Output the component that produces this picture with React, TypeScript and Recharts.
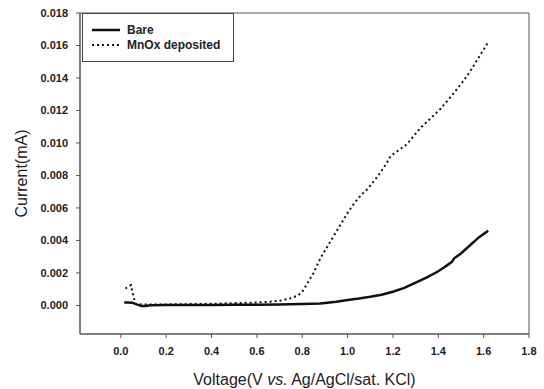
import React from 'react'
import { LineChart, Line, XAxis, YAxis, Legend, Label, ReferenceArea } from 'recharts'

// Bare electrode
const bareVoltage = [0.015, 0.03, 0.05, 0.07, 0.09, 0.11, 0.13, 0.2, 0.3, 0.4, 0.5, 0.6, 0.7, 0.8, 0.88, 0.95, 1.0, 1.05, 1.1, 1.15, 1.2, 1.25, 1.3, 1.35, 1.4, 1.44, 1.46, 1.47, 1.5, 1.54, 1.58, 1.62]
const bareCurrent = [0.00018, 0.00018, 0.00017, 0.00006, -0.00004, -0.00004, 0.00001, 0.00003, 0.00003, 0.00003, 0.00004, 0.00004, 0.00006, 0.00008, 0.00012, 0.00022, 0.00033, 0.00042, 0.00053, 0.00066, 0.00084, 0.00108, 0.0014, 0.00172, 0.0021, 0.00248, 0.00268, 0.0029, 0.0032, 0.0037, 0.0042, 0.0046]

// MnOx deposited
const mnoxVoltage = [0.02, 0.045, 0.05, 0.055, 0.065, 0.1, 0.2, 0.3, 0.4, 0.5, 0.6, 0.65, 0.7, 0.75, 0.78, 0.8, 0.82, 0.85, 0.88, 0.91, 0.94, 0.97, 1.0, 1.03, 1.06, 1.09, 1.13, 1.17, 1.19, 1.22, 1.26, 1.32, 1.38, 1.41, 1.47, 1.51, 1.54, 1.58, 1.62]
const mnoxCurrent = [0.00104, 0.00125, 0.0009, 0.0006, 0.0001, 0.00005, 0.00006, 0.00008, 0.0001, 0.00014, 0.00018, 0.00022, 0.00028, 0.00045, 0.0006, 0.00084, 0.0013, 0.002, 0.0029, 0.0036, 0.0043, 0.005, 0.0057, 0.0063, 0.0068, 0.0072, 0.0079, 0.0087, 0.0092, 0.0095, 0.0099, 0.0109, 0.0117, 0.0121, 0.0131, 0.0138, 0.0144, 0.0153, 0.0162]

const xTicks = [0, 0.2, 0.4, 0.6, 0.8, 1.0, 1.2, 1.4, 1.6, 1.8]
const yTicks = [0, 0.002, 0.004, 0.006, 0.008, 0.01, 0.012, 0.014, 0.016, 0.018]

const X_MIN = -0.18
const X_MAX = 1.8
const Y_MIN = -0.00176
const Y_MAX = 0.018

const bareData = bareVoltage.map((v, i) => ({ v, i: bareCurrent[i] }))
const mnoxData = mnoxVoltage.map((v, i) => ({ v, i: mnoxCurrent[i] }))

const tickStyle = { fontFamily: 'Liberation Sans, Arial, sans-serif', fontSize: 11, fontWeight: 'bold', fill: '#222' }
const titleFont = 'Liberation Sans, Arial, sans-serif'

function LegendBox() {
  const row = (dash: string | undefined, label: string) => (
    <div style={{ display: 'flex', alignItems: 'center', height: 15 }}>
      <svg width={36} height={6} style={{ marginLeft: 8 }}>
        <line x1={1} y1={3} x2={29} y2={3} stroke="#111" strokeWidth={dash ? 2 : 2.5} strokeDasharray={dash} />
      </svg>
      <span style={{ fontFamily: titleFont, fontSize: 12, fontWeight: 'bold', color: '#222' }}>{label}</span>
    </div>
  )
  return (
    <div style={{ width: 152, height: 49, border: '1px solid #444', boxSizing: 'border-box', paddingTop: 8, background: '#fff' }}>
      {row(undefined, 'Bare')}
      {row('2 3', 'MnOx deposited')}
    </div>
  )
}

export default function App() {
  return (
    <div style={{ position: 'absolute', left: 0, top: 0, background: '#fff' }}>
      <LineChart width={544} height={389} margin={{ top: 13, right: 15, left: 0, bottom: 0 }}>
        <XAxis
          type="number"
          dataKey="v"
          domain={[X_MIN, X_MAX]}
          ticks={xTicks}
          tickFormatter={(t: number) => t.toFixed(1)}
          allowDataOverflow
          height={55}
          stroke="#555"
          tickSize={4}
          tickMargin={9}
          tick={tickStyle}
        >
          <Label
            content={(props: any) => {
              const vb = props.viewBox
              return (
                <text x={vb.x + vb.width / 2} y={vb.y + 51} textAnchor="middle" fontFamily={titleFont} fontSize={16} fill="#222">
                  Voltage(V <tspan fontStyle="italic">vs.</tspan> Ag/AgCl/sat. KCl)
                </text>
              )
            }}
          />
        </XAxis>
        <YAxis
          type="number"
          domain={[Y_MIN, Y_MAX]}
          ticks={yTicks}
          tickFormatter={(t: number) => t.toFixed(3)}
          allowDataOverflow
          width={80}
          stroke="#555"
          tickSize={4}
          tickMargin={8}
          tick={tickStyle}
        >
          <Label
            content={(props: any) => {
              const vb = props.viewBox
              const cy = vb.y + vb.height / 2
              return (
                <text x={27} y={cy} transform={`rotate(-90, 27, ${cy})`} textAnchor="middle" fontFamily={titleFont} fontSize={16} fill="#222">
                  Current(mA)
                </text>
              )
            }}
          />
        </YAxis>
        <ReferenceArea x1={X_MIN} x2={X_MAX} y1={Y_MIN} y2={Y_MAX} fill="none" stroke="#555" strokeWidth={1} />
        <Line data={bareData} dataKey="i" type="linear" stroke="#111" strokeWidth={2.5} dot={false} isAnimationActive={false} />
        <Line data={mnoxData} dataKey="i" type="linear" stroke="#111" strokeWidth={2} strokeDasharray="2 3" dot={false} isAnimationActive={false} />
        <Legend
          layout="vertical"
          align="center"
          verticalAlign="middle"
          content={() => <LegendBox />}
          wrapperStyle={{ top: 13, left: 82, width: 152 }}
        />
      </LineChart>
    </div>
  )
}
